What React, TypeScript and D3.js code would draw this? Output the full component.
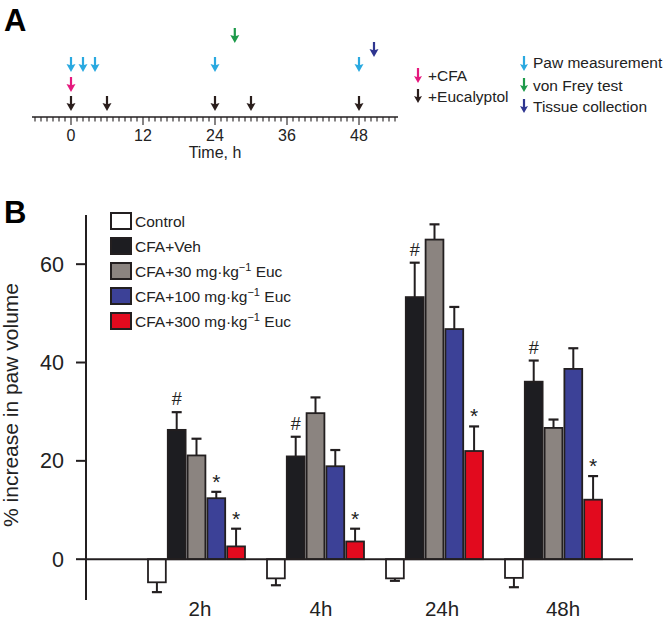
import React from "react";
import * as d3 from "d3";

// ---------- Panel A data ----------
const timeMajorTicks = [0, 12, 24, 36, 48];
const cfaTimes = [0];
const eucalyptolTimes = [0, 6, 24, 30, 48];
const pawTimes = [0, 2, 4, 24, 48];
const vonFreyTimes = [27.3];
const tissueTimes = [50.5];

// ---------- Panel B data ----------
const groups = ["2h", "4h", "24h", "48h"];
const seriesNames = ["Control", "CFA+Veh", "CFA+30", "CFA+100", "CFA+300"];
const controlVals = [-4.7, -3.9, -3.9, -3.8];
const controlErr = [2.0, 1.4, 0.5, 1.9];
const vehVals = [26.3, 20.9, 53.3, 36.1];
const vehErr = [3.6, 4.0, 7.0, 4.3];
const euc30Vals = [21.1, 29.7, 65.0, 26.7];
const euc30Err = [3.4, 3.2, 3.1, 1.7];
const euc100Vals = [12.4, 18.9, 46.8, 38.7];
const euc100Err = [1.3, 3.3, 4.5, 4.2];
const euc300Vals = [2.6, 3.6, 22.0, 12.1];
const euc300Err = [3.6, 2.6, 5.0, 4.8];
const vehMarks = ["#", "#", "#", "#"];
const euc100Marks = ["*", "", "", ""];
const euc300Marks = ["*", "*", "*", "*"];
const yTicks = [0, 20, 40, 60];

const FONT = "'Liberation Sans', Arial, Helvetica, sans-serif";
const INK = "#231f20";
const fills = ["#ffffff", "#1d1d21", "#8b8480", "#3c4197", "#e20a1e"];

function Arrow({ x, yTop, yTip, color, head = 9, headH = 7 }: any) {
  const sw = 2.2;
  const d = `M${x - sw / 2},${yTop} L${x + sw / 2},${yTop} L${x + sw / 2},${yTip - headH} L${x + head / 2},${yTip - headH - 1} L${x},${yTip} L${x - head / 2},${yTip - headH - 1} L${x - sw / 2},${yTip - headH} Z`;
  return <path d={d} fill={color} />;
}

export default function App() {
  // Panel A scale
  const tx = d3.scaleLinear().domain([-6.5, 54.5]).range([32, 398]);
  const axisY = 117;
  const minorTicks = d3.range(-6, 55);

  // Panel B scales
  const y = d3.scaleLinear().domain([-8.3, 70]).range([600, 215]);
  const x0 = d3.scaleBand().domain(groups).range([148, 602]).paddingInner(0.185);
  const x1 = d3.scaleBand().domain(seriesNames).range([0, x0.bandwidth()]).paddingInner(0.1);
  const xLabel = d3.scalePoint().domain(groups).range([200, 563]);

  const seriesVals = [controlVals, vehVals, euc30Vals, euc100Vals, euc300Vals];
  const seriesErr = [controlErr, vehErr, euc30Err, euc100Err, euc300Err];
  const seriesMarks = [null, vehMarks, null, euc100Marks, euc300Marks];

  const legendLabels: any[] = [
    ["Control"],
    ["CFA+Veh"],
    ["CFA+30 mg·kg", "−1", " Euc"],
    ["CFA+100 mg·kg", "−1", " Euc"],
    ["CFA+300 mg·kg", "−1", " Euc"],
  ];

  const arrowRows = [
    { times: eucalyptolTimes, color: "#2a1e1c", top: 96, tip: 111 },
    { times: cfaTimes, color: "#e5197e", top: 77, tip: 92 },
    { times: pawTimes, color: "#2aa9e0", top: 57, tip: 72 },
    { times: vonFreyTimes, color: "#1d9a4a", top: 28, tip: 43 },
    { times: tissueTimes, color: "#2e3590", top: 42, tip: 57 },
  ];

  return (
    <svg
      width={667}
      height={622}
      style={{ position: "absolute", left: 0, top: 0, background: "#fff" }}
      fontFamily={FONT}
    >
      <rect width={667} height={622} fill="#fff" />
      {/* Panel labels */}
      <text x={4} y={31} fontSize={31} fontWeight="bold" fill="#000">A</text>
      <text x={4} y={223} fontSize={31} fontWeight="bold" fill="#000">B</text>

      {/* ---------- Panel A ---------- */}
      <line x1={32} x2={398} y1={axisY} y2={axisY} stroke={INK} strokeWidth={1.6} />
      {minorTicks.map((t) => (
        <line
          key={t}
          x1={tx(t)}
          x2={tx(t)}
          y1={axisY}
          y2={axisY + (t % 12 === 0 ? 8 : 4.5)}
          stroke={INK}
          strokeWidth={1.1}
        />
      ))}
      {timeMajorTicks.map((t) => (
        <text key={t} x={tx(t)} y={141} fontSize={16} textAnchor="middle" fill="#222">
          {t}
        </text>
      ))}
      <text x={tx(24)} y={158} fontSize={16} textAnchor="middle" fill="#222">Time, h</text>
      {arrowRows.map((r, i) =>
        r.times.map((t, j) => (
          <Arrow key={`${i}-${j}`} x={tx(t)} yTop={r.top} yTip={r.tip} color={r.color} />
        ))
      )}

      {/* Panel A legend */}
      <Arrow x={418} yTop={68} yTip={83} color="#e5197e" head={8} headH={6} />
      <text x={428} y={80.5} fontSize={15.5} fill="#222">+CFA</text>
      <Arrow x={418} yTop={89} yTip={103} color="#2a1e1c" head={8} headH={6} />
      <text x={428} y={102} fontSize={15.5} fill="#222">+Eucalyptol</text>
      <Arrow x={524} yTop={56} yTip={71} color="#2aa9e0" head={8} headH={6} />
      <text x={533} y={67.5} fontSize={15.5} fill="#222">Paw measurement</text>
      <Arrow x={524} yTop={78} yTip={92} color="#1d9a4a" head={8} headH={6} />
      <text x={533} y={90.5} fontSize={15.5} fill="#222">von Frey test</text>
      <Arrow x={524} yTop={99} yTip={113} color="#2e3590" head={8} headH={6} />
      <text x={533} y={112} fontSize={15.5} fill="#222">Tissue collection</text>

      {/* ---------- Panel B ---------- */}
      {/* y axis */}
      <line x1={86} x2={86} y1={215} y2={600} stroke={INK} strokeWidth={2} />
      {yTicks.map((t) => (
        <g key={t}>
          <line x1={76} x2={86} y1={y(t)} y2={y(t)} stroke={INK} strokeWidth={2} />
          <text x={64} y={y(t) + 7.5} fontSize={21.5} textAnchor="end" fill="#222">
            {t}
          </text>
        </g>
      ))}
      <text
        transform={`translate(18,405) rotate(-90)`}
        fontSize={21}
        textAnchor="middle"
        fill="#222"
      >
        % increase in paw volume
      </text>

      {/* bars */}
      {groups.map((g, gi) => (
        <g key={g} transform={`translate(${x0(g)},0)`}>
          {seriesNames.map((s, si) => {
            const v = seriesVals[si][gi];
            const e = seriesErr[si][gi];
            const bx = x1(s)!;
            const bw = x1.bandwidth();
            const cx = bx + bw / 2;
            const yTop = Math.min(y(v), y(0));
            const h = Math.abs(y(v) - y(0));
            const ye = v >= 0 ? y(v + e) : y(v - e);
            const marks = seriesMarks[si];
            const mark = marks ? marks[gi] : "";
            return (
              <g key={s}>
                <line x1={cx} x2={cx} y1={y(v)} y2={ye} stroke={INK} strokeWidth={2} />
                <line x1={cx - 5} x2={cx + 5} y1={ye} y2={ye} stroke={INK} strokeWidth={2.2} />
                <rect x={bx} y={yTop} width={bw} height={h} fill={fills[si]} stroke={INK} strokeWidth={1.8} />
                {mark === "#" && (
                  <text x={cx} y={ye - 7} fontSize={18} textAnchor="middle" fill="#222">#</text>
                )}
                {mark === "*" && (
                  <text x={cx} y={ye - 3} fontSize={21} textAnchor="middle" fill="#222">*</text>
                )}
              </g>
            );
          })}
        </g>
      ))}
      {/* zero line */}
      <line x1={86} x2={633} y1={y(0)} y2={y(0)} stroke={INK} strokeWidth={2} />

      {/* group labels */}
      {groups.map((g) => (
        <text key={g} x={xLabel(g)} y={616} fontSize={20.5} textAnchor="middle" fill="#222">
          {g}
        </text>
      ))}

      {/* legend B */}
      {seriesNames.map((s, i) => {
        const cy = 221 + i * 25;
        const parts = legendLabels[i];
        return (
          <g key={s}>
            <rect x={111} y={cy - 8} width={20} height={16} fill={fills[i]} stroke={INK} strokeWidth={2} />
            <text x={135} y={cy + 5.5} fontSize={15.5} fill="#222">
              {parts[0]}
              {parts.length > 1 && (
                <>
                  <tspan fontSize={11} dy={-6}>{parts[1]}</tspan>
                  <tspan dy={6}>{parts[2]}</tspan>
                </>
              )}
            </text>
          </g>
        );
      })}
    </svg>
  );
}
